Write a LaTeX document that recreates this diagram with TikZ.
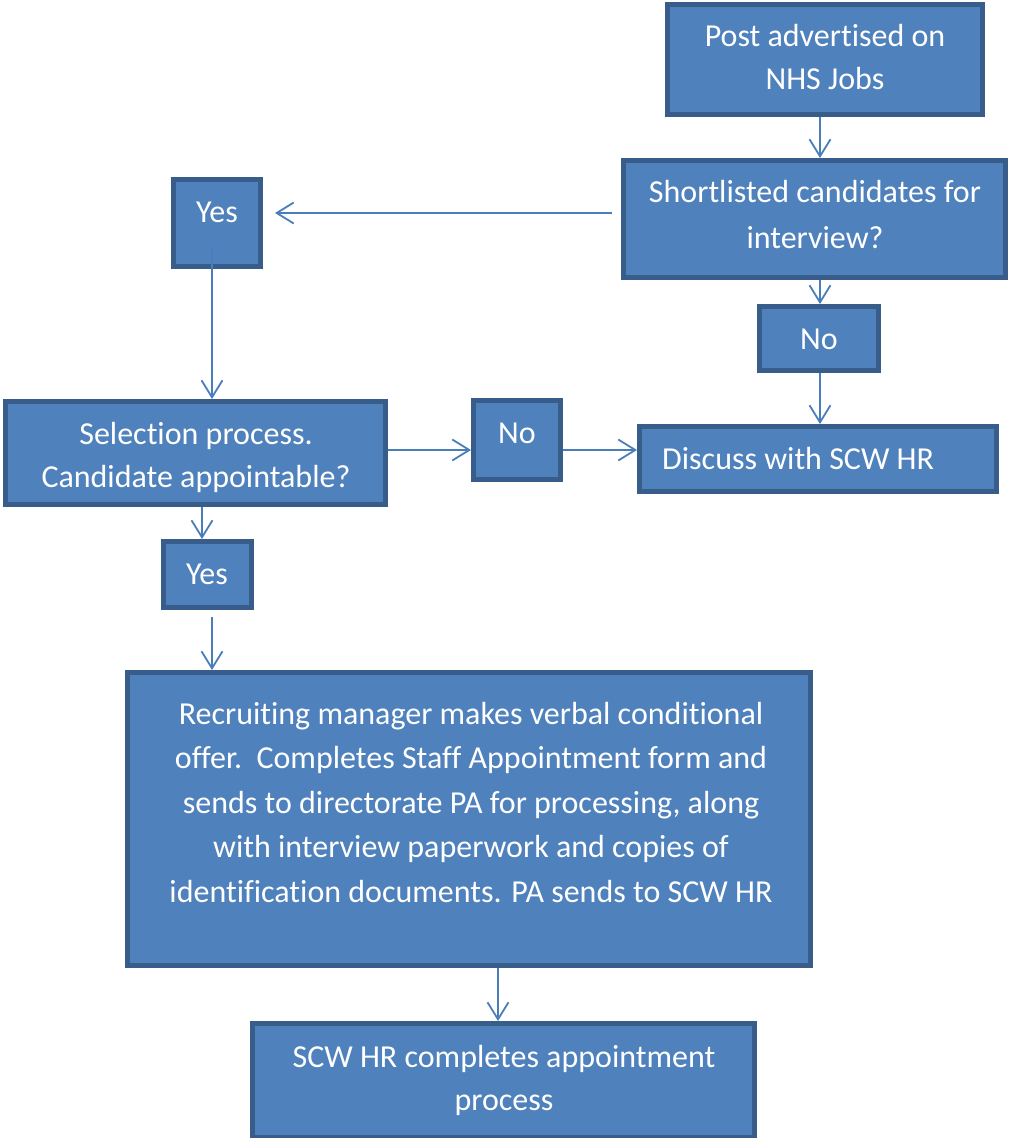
\documentclass[tikz,border=0pt]{standalone}
\usepackage{fontspec}
\setmainfont{Carlito}[Ligatures=NoCommon]
\usetikzlibrary{arrows.meta}
\definecolor{boxfill}{HTML}{4F81BD}
\definecolor{boxline}{HTML}{385D8A}
\definecolor{arrline}{HTML}{4A7EBB}
\begin{document}
\begin{tikzpicture}[x=1pt,y=-1pt,
  box/.style={draw=boxline, fill=boxfill, line width=5pt, rectangle, inner sep=0pt},
  txt/.style={text=white, font=\fontsize{32}{#1}\selectfont, align=center, anchor=base, inner sep=0pt},
  txt/.default=44.5,
  arr/.style={draw=arrline, line width=1.8pt, -{Straight Barb[length=17pt,width=21pt]}}]
\useasboundingbox (0,0) rectangle (1009,1138);
% boxes
\node[box, minimum width=315pt, minimum height=110pt] (post) at (825,59.5) {};
\node[box, minimum width=382pt, minimum height=117pt] (short) at (814.5,219) {};
\node[box, minimum width=87pt, minimum height=87pt] (yes1) at (217,223) {};
\node[box, minimum width=119pt, minimum height=64pt] (no1) at (819,338.5) {};
\node[box, minimum width=357pt, minimum height=65pt] (disc) at (818,459) {};
\node[box, minimum width=380pt, minimum height=103pt] (sel) at (195.5,453) {};
\node[box, minimum width=87pt, minimum height=79pt] (no2) at (517,440) {};
\node[box, minimum width=88pt, minimum height=66pt] (yes2) at (207.5,574.5) {};
\node[box, minimum width=683pt, minimum height=293pt] (rec) at (469,819) {};
\node[box, minimum width=502pt, minimum height=114pt] (scw) at (503.5,1080.5) {};
% texts (anchor base = baseline of the last line)
\node[txt=43] (postt) at (825,89) {Post advertised on\\NHS Jobs};
\node[txt=45.5] (shortt) at (815,248) {Shortlisted candidates for\\interview?};
\node[txt] (yes1t) at (217,222) {Yes};
\node[txt] (no1t) at (819,349) {No};
\node[txt, anchor=base west, align=left] (disct) at (662,469) {Discuss with SCW HR};
\node[txt=43] (selt) at (196,487) {Selection process.\\Candidate appointable?};
\node[txt] (no2t) at (517,443) {No};
\node[txt] (yes2t) at (207,584) {Yes};
\node[txt] (rect) at (471,902) {Recruiting manager makes verbal conditional\\offer.\ \ Completes Staff Appointment form and\\sends to directorate PA for processing, along\\with interview paperwork and copies of\\identification documents. PA sends to SCW HR};
\node[txt=43] (scwt) at (504,1110) {SCW HR completes appointment\\process};
% guide coordinates
\coordinate (x820) at (820,0);
\coordinate (x212) at (212,0);
\coordinate (x202) at (202,0);
\coordinate (x498) at (498,0);
\coordinate (y213) at (0,213);
\coordinate (y450) at (0,450);
% connectors
\draw[arr] (post.south -| x820) -- (short.north -| x820);
\draw[arr, shorten <=9pt, shorten >=12pt] (short.west |- y213) -- (yes1.east |- y213);
\draw[arr, shorten <=-22pt] (yes1.south -| x212) -- (sel.north -| x212);
\draw[arr] (short.south -| x820) -- (no1.north -| x820);
\draw[arr] (no1.south -| x820) -- (disc.north -| x820);
\draw[arr] (sel.east |- y450) -- (no2.west |- y450);
\draw[arr] (no2.east |- y450) -- (disc.west |- y450);
\draw[arr] (sel.south -| x202) -- (yes2.north -| x202);
\draw[arr, shorten <=7pt] (yes2.south -| x212) -- (rec.north -| x212);
\draw[arr] (rec.south -| x498) -- (scw.north -| x498);
\end{tikzpicture}
\end{document}
